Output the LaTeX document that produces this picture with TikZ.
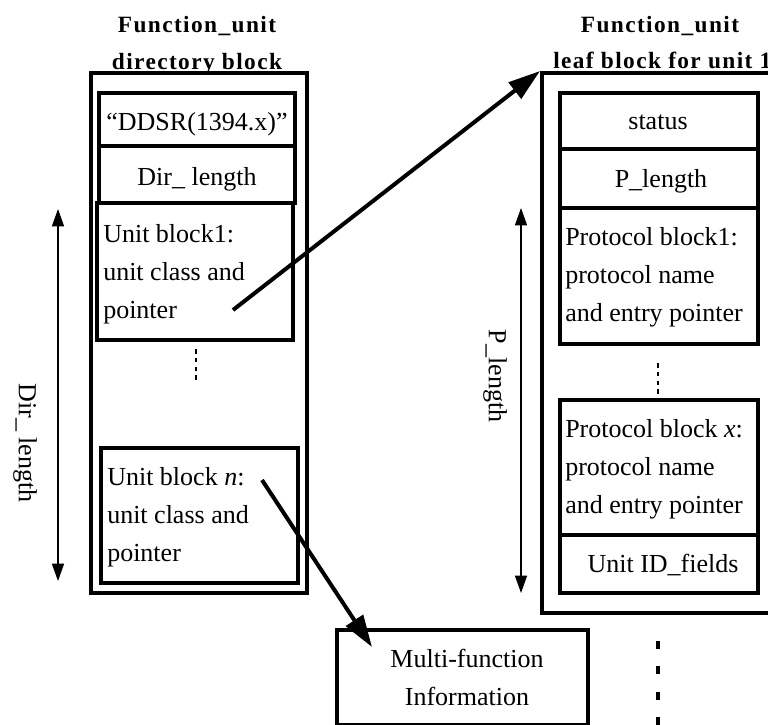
\documentclass[tikz,border=0pt]{standalone}
\usepackage{fontspec}
\setmainfont{Liberation Serif}
\newfontfamily\titlefont[LetterSpace=6]{Liberation Serif}
\usetikzlibrary{fit,arrows.meta}
\begin{document}
\begin{tikzpicture}[x=0.75pt,y=-0.75pt,
  box/.style={draw, line width=3pt, inner sep=0pt},
  txt/.style={inner sep=0pt, font=\fontsize{19.5}{28.5}\selectfont},
  ml/.style={txt, align=left, anchor=north west},
  ttl/.style={inner sep=0pt, font=\titlefont\bfseries\fontsize{17.5}{20}\selectfont, anchor=base},
  ptr/.style={line width=3pt, -{Triangle[length=24pt,width=15pt]}},
  dimarrow/.style={line width=1.1pt, {Triangle[length=13pt,width=9pt]}-{Triangle[length=13pt,width=9pt]}},
  shortdots/.style={line width=1.7pt, dash pattern=on 3.4pt off 3.2pt},
  longdots/.style={line width=3.5pt, dash pattern=on 6pt off 13pt}]
\useasboundingbox (0,0) rectangle (768,725);

% titles
\node[ttl] (t1a) at (197,32) {Function\_unit};
\node[ttl] (t1b) at (197,69) {directory block};
\node[ttl] (t2a) at (660,32) {Function\_unit};
\node[ttl, anchor=base west] (t2b) at (553,68) {leaf block for unit 1};

% left directory block
\node[box, fit={(91,73) (307,593)}] (lout) {};
\node[box, fit={(99,93) (295,146)}] (ddsr) {};
\node[box, fit={(99,146) (295,203)}] (dirl) {};
\node[box, fit={(97,203) (293,340)}] (ub1) {};
\node[box, fit={(101,448) (298,583)}] (ubn) {};

\node[txt, anchor=base] (ddsrT) at (197,130) {“DDSR(1394.x)”};
\node[txt, anchor=base] (dirlT) at (197,185) {Dir\_ length};
\node[ml] (ub1T) at (103,215.4) {\strut Unit block1:\\unit class and\\pointer};
\node[ml] (ubnT) at (107,458.4) {\strut Unit block \textit{n}:\\unit class and\\pointer};

\coordinate (ldA) at (196,349);
\coordinate (ldB) at (196,382);
\draw[shortdots] (ldA) -- (ldB);

% Dir_length dimension
\coordinate (dtop) at (58,209);
\coordinate (dbot) at (58,581);
\draw[dimarrow] (dtop) -- (dbot);
\node[txt, rotate=-90] (dlab) at (25,443) {Dir\_ length};

% right leaf block
\node[box, fit={(542,73) (790,613)}] (rout) {};
\node[box, fit={(560,93) (758,149)}] (stat) {};
\node[box, fit={(560,149) (758,208)}] (plen) {};
\node[box, fit={(560,208) (758,344)}] (pb1) {};
\node[box, fit={(560,400) (758,535)}] (pbx) {};
\node[box, fit={(560,535) (758,593)}] (uid) {};

\node[txt, anchor=base] (statT) at (658,129) {status};
\node[txt, anchor=base] (plenT) at (661,187) {P\_length};
\node[ml] (pb1T) at (565,218.4) {\strut Protocol block1:\\protocol name\\and entry pointer};
\node[ml] (pbxT) at (565,410.4) {\strut Protocol block \textit{x}:\\protocol name\\and entry pointer};
\node[txt, anchor=base] (uidT) at (663,572) {Unit ID\_fields};

\coordinate (rdA) at (658,363);
\coordinate (rdB) at (658,394);
\draw[shortdots] (rdA) -- (rdB);

% P_length dimension
\coordinate (ptop) at (521,208);
\coordinate (pbot) at (521,593);
\draw[dimarrow] (ptop) -- (pbot);
\node[txt, rotate=-90] (plab) at (495,376) {P\_length};

% multi-function box
\node[box, fit={(337,630) (588,725)}] (mf) {};
\node[txt, anchor=base] (mfT1) at (467,667) {Multi-function};
\node[txt, anchor=base] (mfT2) at (467,705) {Information};

% bottom dots
\coordinate (bdA) at (658,641);
\coordinate (bdB) at (658,740);
\draw[longdots] (bdA) -- (bdB);

% pointers
\coordinate (a1s) at (233,310);
\draw[ptr] (a1s) -- (rout.north west);
\coordinate (a2s) at (262,480);
\coordinate (a2e) at (372,647);
\draw[ptr] (a2s) -- (a2e);
\end{tikzpicture}
\end{document}
